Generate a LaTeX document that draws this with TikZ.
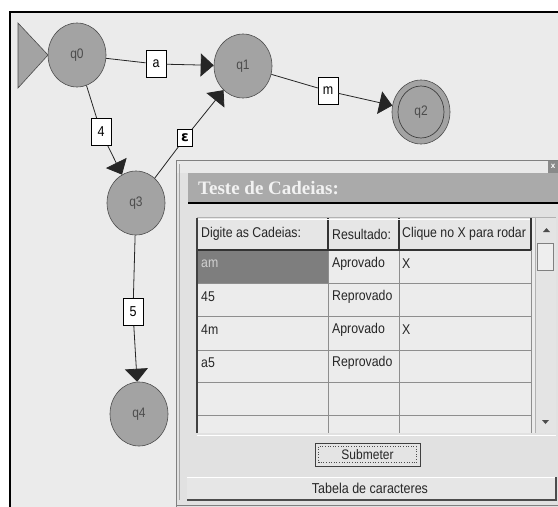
\documentclass[tikz,border=0pt]{standalone}
\usepackage{graphicx}
\usepackage{fontspec}
\setmainfont{Liberation Sans}
\newfontfamily\ttlfont{Liberation Serif}
\newfontfamily\djvfont{DejaVu Sans}
\usetikzlibrary{arrows.meta,shapes.geometric}
\newcommand{\talltext}[1]{\scalebox{1}[1.15]{#1}}
\definecolor{canvas}{HTML}{EBEBEB}
\definecolor{statefill}{HTML}{A3A3A3}
\definecolor{panelbg}{HTML}{E1E1E1}
\definecolor{cellbg}{HTML}{ECECEC}
\definecolor{gridc}{HTML}{8E8E8E}
\definecolor{titlebar}{HTML}{AAAAAA}
\definecolor{selcell}{HTML}{7E7E7E}
\definecolor{stripbg}{HTML}{E9E9E9}
\definecolor{closebg}{HTML}{8A8A8A}
\definecolor{hdrbg}{HTML}{E6E6E6}
\definecolor{seltext}{HTML}{D0D0D0}
\definecolor{scrollbg}{HTML}{E4E4E4}
\definecolor{thumbbg}{HTML}{EEEEEE}
\begin{document}
\begin{tikzpicture}[x=1pt,y=-1pt,
  state/.style={ellipse, draw=black!70, line width=0.6pt, fill=statefill,
    minimum width=58pt, minimum height=64pt, inner sep=0pt,
    font=\fontsize{12}{14}\selectfont, text=black!70},
  lbl/.style={draw=black, line width=0.6pt, fill=white, minimum width=20pt,
    minimum height=27pt, inner sep=0pt, font=\fontsize{12.5}{14}\selectfont},
  edge/.style={draw=black!85, line width=0.8pt},
  arr/.style={edge, -{Triangle[length=13pt,width=23pt]}},
  gtxt/.style={anchor=west, inner sep=0pt, font=\fontsize{12.3}{14}\selectfont, text=black!85},
  gridline/.style={draw=gridc, line width=0.6pt},
  hdline/.style={draw=black!80, line width=1.2pt}]
\useasboundingbox (0,0) rectangle (558,507);
\fill[white] (0,0) rectangle (558,507);
\fill[canvas] (10,12) rectangle (558,507);
\draw[black, line width=2pt] (9.5,507) -- (9.5,12) -- (558,12);

% initial marker
\filldraw[fill=statefill, draw=black!70, line width=0.6pt] (18,23) -- (48,55) -- (18,88) -- cycle;

% states
\node[state] (q0) at (77,55) {\talltext{q0}};
\node[state] (q1) at (243,66) {\talltext{q1}};
\node[state] (q2) at (421,112) {};
\draw[black!75, line width=0.7pt] (q2.center) ellipse (23pt and 26pt);
\node[font=\fontsize{12}{14}\selectfont, text=black!70] (q2t) at (q2.center) {\talltext{q2}};
\node[state] (q3) at (136,203) {\talltext{q3}};
\node[state] (q4) at (139,414) {\talltext{q4}};

% labels
\node[lbl] (la) at (156,64) {\talltext{a}};
\node[lbl] (l4) at (101,132) {\talltext{4}};
\node[lbl, minimum width=15pt, minimum height=17pt, font=\fontsize{14}{16}\selectfont] (le) at (185,138) {\djvfont\bfseries ε};
\node[lbl] (lm) at (328,91) {\talltext{m}};
\node[lbl] (l5) at (133,312) {\talltext{5}};

% edges
\draw[edge] (q0) -- (la);
\draw[arr] (la) -- (q1);
\draw[edge] (q0) -- (l4);
\draw[arr] (l4) -- (q3);
\draw[edge] (q3) -- (le);
\draw[arr] (le) -- (q1);
\draw[edge] (q1) -- (lm);
\draw[arr] (lm) -- (q2);
\draw[edge] (q3) -- (l5);
\draw[arr] (l5) -- (q4);

% ---- dialog panel ----
\fill[panelbg] (176,160) rectangle (558,507);
\fill[stripbg] (176,160) rectangle (558,173);
\draw[gray, line width=0.8pt] (176.5,507) -- (176.5,160.5) -- (558,160.5);
\draw[gray!70, line width=0.6pt] (179.5,500) -- (179.5,164);
\draw[gray, line width=0.8pt] (176.5,505) -- (558,505);
\fill[closebg] (548,161) rectangle (558,173);
\node[text=white, font=\fontsize{8}{9}\selectfont\bfseries, inner sep=0pt] (closex) at (553,166) {x};

% title bar
\fill[titlebar] (188,173) rectangle (558,202);
\draw[black, line width=2pt] (188,203) -- (558,203);
\node[anchor=west, inner sep=0pt, text=white!95!black, font=\ttlfont\bfseries\fontsize{19}{22}\selectfont] (ttl) at (198,188) {Teste de Cadeias:};

% table
\fill[cellbg] (197,218) rectangle (535,433);
\fill[hdrbg] (197,218) rectangle (531,250);
\fill[selcell] (197,250) rectangle (328,283);
\foreach \yy in {283,316,350,382,415} \draw[gridline] (197,\yy) -- (531,\yy);
\draw[gridline] (328,250) -- (328,433);
\draw[gridline] (399,250) -- (399,433);
\draw[gridline] (531,250) -- (531,433);
\draw[hdline] (197,250) -- (531,250);
\draw[hdline] (328,218) -- (328,250);
\draw[hdline] (399,218) -- (399,250);
\draw[hdline] (531,218) -- (531,250);
\draw[white, line width=0.8pt] (198,219) -- (530,219);
\draw[black!75, line width=1.2pt] (197,218) -- (197,433);
\draw[gray!60, line width=0.6pt] (197,217.5) -- (556,217.5);
\draw[white, line width=0.8pt] (197,435) -- (556,435);

\node[gtxt] (h1) at (201,234) {\talltext{Digite as Cadeias:}};
\node[gtxt] (h2) at (332,234) {\talltext{Resultado:}};
\node[gtxt] (h3) at (402,234) {\talltext{Clique no X para rodar}};
\node[gtxt, text=seltext] (r1a) at (201,264) {\talltext{am}};
\node[gtxt] (r1b) at (332,264) {\talltext{Aprovado}};
\node[gtxt] (r1c) at (402,264) {\talltext{X}};
\node[gtxt] (r2a) at (201,297) {\talltext{45}};
\node[gtxt] (r2b) at (332,297) {\talltext{Reprovado}};
\node[gtxt] (r3a) at (201,330) {\talltext{4m}};
\node[gtxt] (r3b) at (332,330) {\talltext{Aprovado}};
\node[gtxt] (r3c) at (402,330) {\talltext{X}};
\node[gtxt] (r4a) at (201,363) {\talltext{a5}};
\node[gtxt] (r4b) at (332,363) {\talltext{Reprovado}};

% scrollbar
\fill[scrollbg] (535,218) rectangle (556,433);
\draw[gray!60, line width=0.6pt] (535,218) -- (535,433);
\fill[black!70] (543,232) -- (546.5,228) -- (550,232) -- cycle;
\filldraw[fill=thumbbg, draw=gray, line width=0.6pt] (537,243) rectangle (553,270);
\fill[black!70] (542,420) -- (545.5,424) -- (549,420) -- cycle;

% Submeter button
\filldraw[fill=scrollbg, draw=black!75, line width=1pt] (315,443) rectangle (420,466);
\draw[black!70, dotted, line width=0.6pt] (318.5,446.5) rectangle (416.5,462.5);
\node[inner sep=0pt, font=\fontsize{12}{14}\selectfont, text=black!85] (sub) at (367.5,454.5) {\talltext{Submeter}};

% Tabela bar
\fill[hdrbg] (187,477) rectangle (556,500);
\draw[white, line width=0.8pt] (187,477.5) -- (555,477.5);
\draw[black!70, line width=1.2pt] (187,500) -- (556,500) -- (556,477);
\node[inner sep=0pt, font=\fontsize{12.5}{14}\selectfont, text=black!85] (tab) at (370,488.5) {\talltext{Tabela de caracteres}};
\end{tikzpicture}
\end{document}
